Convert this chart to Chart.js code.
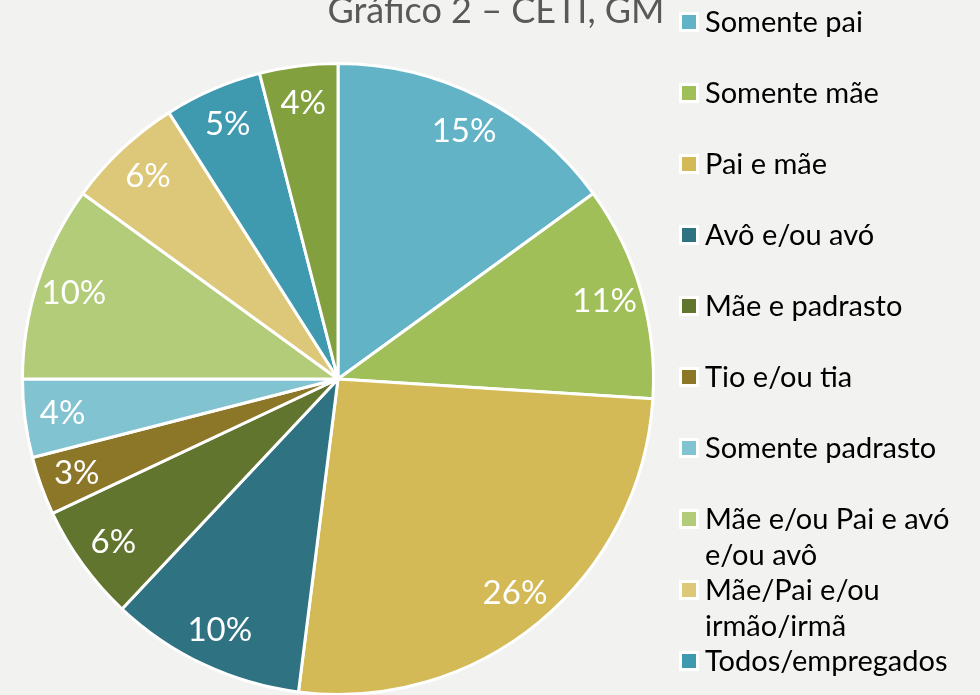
<!DOCTYPE html>
<html><head><meta charset="utf-8">
<script src="https://cdn.jsdelivr.net/npm/chart.js@4.4.0/dist/chart.umd.min.js"></script>
<style>
html,body{margin:0;padding:0;background:#F2F2F0;overflow:hidden;width:980px;height:695px;}
canvas{display:block;}
</style></head><body>
<canvas id="c" width="980" height="700"></canvas>
<script>
const title = 'Gráfico 2 – CETI, GM';
const categories = ['Somente pai','Somente mãe','Pai e mãe','Avô e/ou avó','Mãe e padrasto','Tio e/ou tia','Somente padrasto',['Mãe e/ou Pai e avó','e/ou avô'],['Mãe/Pai e/ou','irmão/irmã'],'Todos/empregados','Outros'];
const values = [15,11,26,10,6,3,4,10,6,5,4];
const colors = ['#63B3C7','#A0BF58','#D4BA56','#2F7282','#62752F','#8C7627','#82C3D1','#B3CC7A','#DDC879','#3F9AAF','#82A03E'];
const legendCount = 10;
const FONT = 'Lato, "Open Sans", sans-serif';

const overlay = {
  id:'overlay',
  afterDatasetsDraw(chart){
    const ctx = chart.ctx;
    const meta = chart.getDatasetMeta(0);
    const total = values.reduce((a,b)=>a+b,0);
    ctx.save();
    ctx.fillStyle = '#FFFFFF';
    ctx.font = '33px ' + FONT;
    ctx.textAlign = 'center';
    ctx.textBaseline = 'middle';
    meta.data.forEach((arc,i)=>{
      const p = arc.getProps(['x','y','startAngle','endAngle','outerRadius'],true);
      const a = (p.startAngle+p.endAngle)/2;
      const r = p.outerRadius*0.88;
      ctx.fillText(Math.round(values[i]/total*100)+'%', p.x+Math.cos(a)*r, p.y+Math.sin(a)*r);
    });
    // title
    ctx.fillStyle = '#595959';
    ctx.font = '36px ' + FONT;
    ctx.textBaseline = 'alphabetic';
    ctx.fillText(title, 496, 23);
    // legend
    ctx.textAlign = 'left';
    ctx.font = '29px ' + FONT;
    for(let i=0;i<legendCount;i++){
      const base = 32 + i*71;
      ctx.fillStyle = '#FFFFFF';
      ctx.fillRect(679, base-20, 20, 20);
      ctx.fillStyle = colors[i];
      ctx.fillRect(682, base-17, 14, 14);
      ctx.fillStyle = '#000000';
      const lines = Array.isArray(categories[i]) ? categories[i] : [categories[i]];
      lines.forEach((t,j)=>ctx.fillText(t, 705, base + j*35.5));
    }
    ctx.restore();
  }
};

new Chart(document.getElementById('c'),{
  type:'pie',
  data:{labels:categories,datasets:[{data:values,backgroundColor:colors,borderColor:'#FFFFFF',borderWidth:3}]},
  options:{
    responsive:false,animation:false,
    layout:{padding:{left:21,top:62,right:325,bottom:4}},
    plugins:{legend:{display:false},tooltip:{enabled:false},title:{display:false}}
  },
  plugins:[overlay]
});
</script>
</body></html>
